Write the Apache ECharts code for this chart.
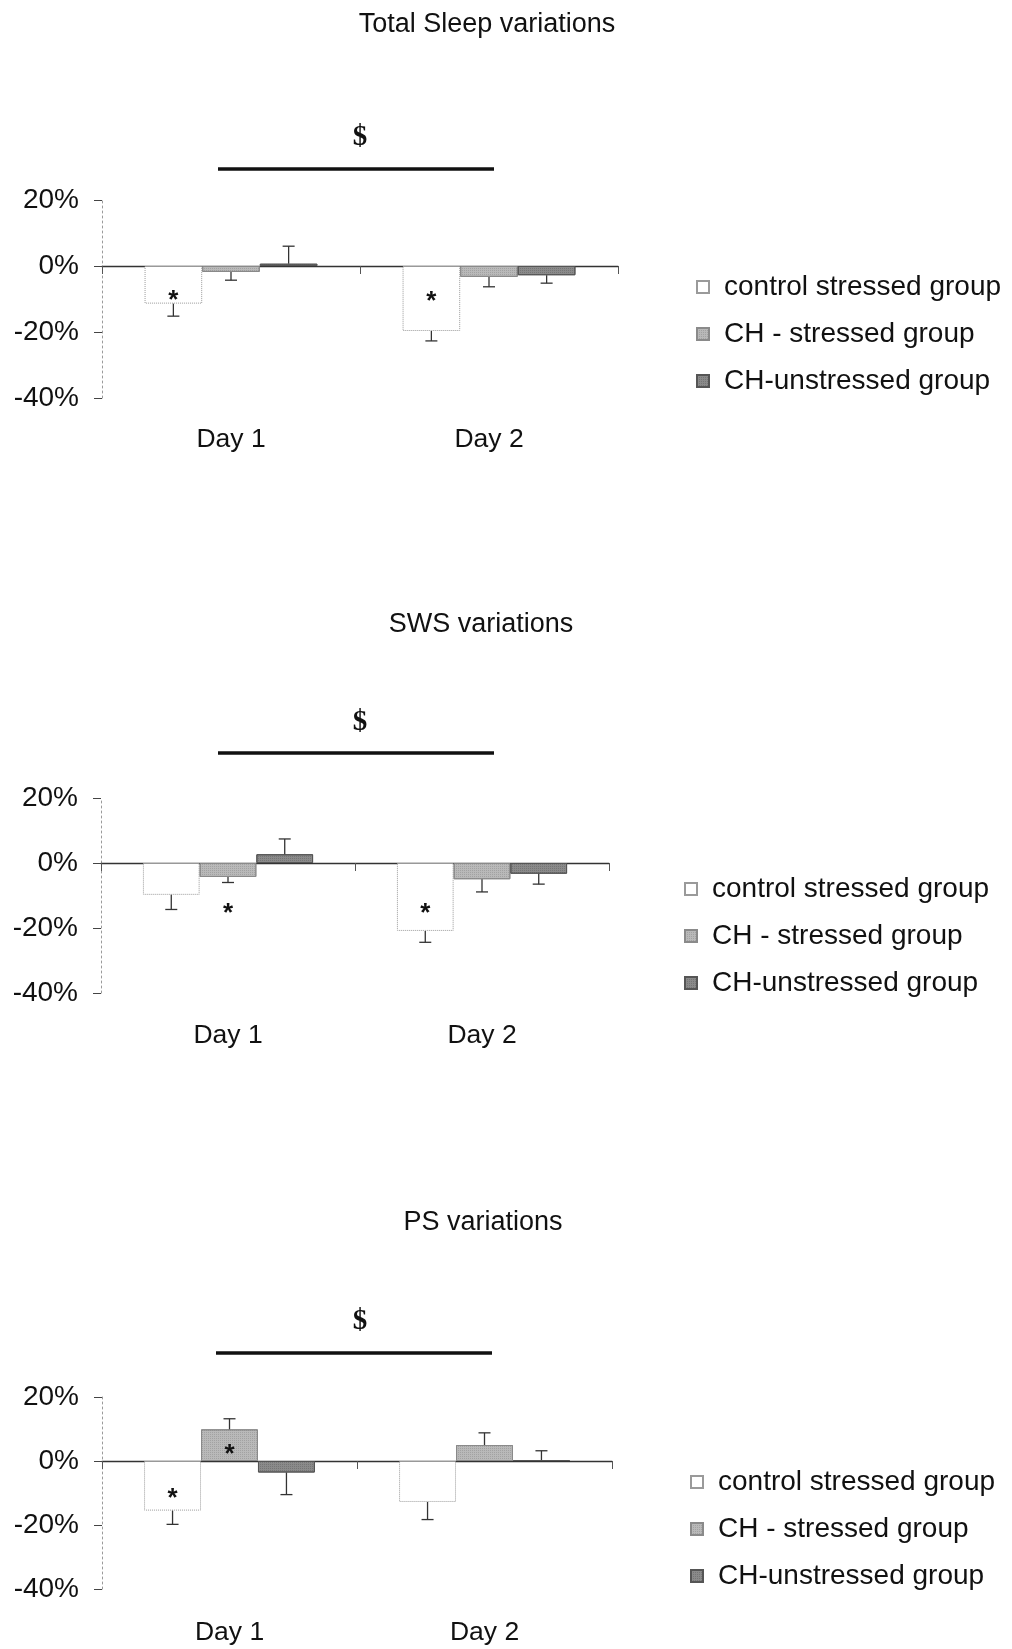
<!DOCTYPE html>
<html>
<head>
<meta charset="utf-8">
<title>Sleep variations</title>
<script src="https://cdn.jsdelivr.net/npm/echarts@6/dist/echarts.min.js"></script>
<style>
    html, body { margin: 0; padding: 0; background: #fff; }
    #chart { width: 1012px; height: 1649px; }
</style>
</head>
<body>
<div id="chart"></div>
<script>
//////////DATA
var days = ['Day 1', 'Day 2'];
var groupNames = ['control stressed group', 'CH - stressed group', 'CH-unstressed group'];
var yMin = -40, yMax = 20, yStep = 20;

// Total sleep (% variation, then one-sided SEM)
var totalControl = [-11.4, -19.7];
var totalChStressed = [-1.8, -3.3];
var totalChUnstressed = [0.7, -2.8];
var totalControlErr = [3.8, 3.0];
var totalChStressedErr = [2.5, 3.0];
var totalChUnstressedErr = [5.3, 2.4];
var totalStars = [[0, 0, -9.7], [1, 0, -10]];      // [day, group, y]

// SWS
var swsControl = [-9.8, -20.9];
var swsChStressed = [-4.3, -5.0];
var swsChUnstressed = [2.7, -3.3];
var swsControlErr = [4.5, 3.5];
var swsChStressedErr = [1.7, 3.9];
var swsChUnstressedErr = [4.7, 3.2];
var swsStars = [[0, 1, -14.6], [1, 0, -14.6]];

// PS
var psControl = [-15.5, -12.8];
var psChStressed = [9.9, 5.0];
var psChUnstressed = [-3.6, 0.3];
var psControlErr = [4.3, 5.5];
var psChStressedErr = [3.3, 3.8];
var psChUnstressedErr = [6.9, 2.9];
var psStars = [[0, 0, -10.9], [0, 1, 3.0]];
//////////DATA

(function () {
    'use strict';

    var font = '"Liberation Sans", Arial, sans-serif';
    var gapRatio = 0.33;

    var barStyles = [
        { color: '#ffffff', borderColor: '#9a9a9a', borderType: 'dotted', borderWidth: 1 },
        { color: '#b9b9b9', borderColor: '#8a8a8a', borderWidth: 1,
          decal: { symbol: 'rect', symbolSize: 1, dashArrayX: [1, 1], dashArrayY: [1, 1], color: 'rgba(0,0,0,0.12)' } },
        { color: '#8a8a8a', borderColor: '#555555', borderWidth: 1,
          decal: { symbol: 'rect', symbolSize: 1, dashArrayX: [1, 1], dashArrayY: [1, 1], color: 'rgba(0,0,0,0.15)' } }
    ];

    // layout per panel
    var panels = [
        {
            title: 'Total Sleep variations', cx: 482, ty: 6,
            values: [totalControl, totalChStressed, totalChUnstressed],
            errors: [totalControlErr, totalChStressedErr, totalChUnstressedErr],
            stars: totalStars,
            grid: { left: 102, right: 394, top: 200, height: 198 },
            legend: { left: 691, top: 267 },
            labelMargin: 28,
            sig: { x: 360, y: 138, lineY: 169, x1: 218, x2: 494 }
        },
        {
            title: 'SWS variations', cx: 476, ty: 606,
            values: [swsControl, swsChStressed, swsChUnstressed],
            errors: [swsControlErr, swsChStressedErr, swsChUnstressedErr],
            stars: swsStars,
            grid: { left: 101, right: 403, top: 798, height: 195 },
            legend: { left: 679, top: 869 },
            labelMargin: 29,
            sig: { x: 360, y: 723, lineY: 753, x1: 218, x2: 494 }
        },
        {
            title: 'PS variations', cx: 478, ty: 1204,
            values: [psControl, psChStressed, psChUnstressed],
            errors: [psControlErr, psChStressedErr, psChUnstressedErr],
            stars: psStars,
            grid: { left: 102, right: 400, top: 1397, height: 192 },
            legend: { left: 685, top: 1462 },
            labelMargin: 30,
            sig: { x: 360, y: 1322, lineY: 1353, x1: 216, x2: 492 }
        }
    ];

    function barOffset(api, group) {
        var band = api.size([1, 0])[0];
        var bw = band * (1 - gapRatio) / 3;
        return { off: (group - 1) * bw, bw: bw };
    }

    function renderError(params, api) {
        var day = api.value(0);
        var o = barOffset(api, api.value(3));
        var p1 = api.coord([day, api.value(1)]);
        var p2 = api.coord([day, api.value(2)]);
        var x = p1[0] + o.off;
        var style = { stroke: '#333', lineWidth: 1.3 };
        return {
            type: 'group',
            children: [
                { type: 'line', shape: { x1: x, y1: p1[1], x2: x, y2: p2[1] }, style: style },
                { type: 'line', shape: { x1: x - 6, y1: p2[1], x2: x + 6, y2: p2[1] }, style: style }
            ]
        };
    }

    function renderStar(params, api) {
        var day = api.value(0);
        var o = barOffset(api, api.value(2));
        var p = api.coord([day, api.value(1)]);
        return {
            type: 'text',
            style: {
                text: '*', x: p[0] + o.off, y: p[1] + 3,
                align: 'center', verticalAlign: 'middle',
                font: 'bold 26px ' + font, fill: '#111'
            }
        };
    }

    var option = {
        animation: false,
        backgroundColor: '#fff',
        title: [], legend: [], grid: [], xAxis: [], yAxis: [], series: [], graphic: []
    };

    panels.forEach(function (p, i) {
        option.title.push({
            text: p.title, left: p.cx, top: p.ty, textAlign: 'center',
            textStyle: { fontFamily: font, fontSize: 27, fontWeight: 'normal', color: '#111' }
        });
        option.grid.push(p.grid);

        ////////////Axes: zero line + day labels
        option.xAxis.push({
            type: 'category', data: days, gridIndex: i, position: 'bottom',
            axisLine: { onZero: true, lineStyle: { color: '#333', width: 1.3 } },
            axisTick: { show: true, length: 8, lineStyle: { color: '#555' } },
            axisLabel: { show: false }
        });
        option.xAxis.push({
            type: 'category', data: days, gridIndex: i, position: 'bottom',
            axisLine: { show: false, onZero: false }, axisTick: { show: false },
            axisLabel: { margin: p.labelMargin, fontFamily: font, fontSize: 26.5, color: '#111' }
        });
        option.yAxis.push({
            type: 'value', gridIndex: i, min: yMin, max: yMax, interval: yStep,
            axisLine: { show: true, lineStyle: { color: '#9a9a9a', type: [2, 3], width: 1 } },
            axisTick: { show: true, length: 8, lineStyle: { color: '#444' } },
            splitLine: { show: false },
            axisLabel: { formatter: '{value}%', margin: 23, fontFamily: font, fontSize: 28, color: '#111' }
        });

        ////////////Bars
        var errData = [];
        p.values.forEach(function (vals, k) {
            option.series.push({
                type: 'bar', name: groupNames[k], xAxisIndex: 2 * i, yAxisIndex: i,
                data: vals, barGap: '0%', barCategoryGap: (gapRatio * 100) + '%',
                itemStyle: barStyles[k]
            });
            vals.forEach(function (v, d) {
                var e = p.errors[k][d];
                errData.push([d, v, v + (v >= 0 ? e : -e), k]);
            });
        });
        option.series.push({
            type: 'custom', xAxisIndex: 2 * i, yAxisIndex: i,
            renderItem: renderError, data: errData, z: 3
        });
        option.series.push({
            type: 'custom', xAxisIndex: 2 * i, yAxisIndex: i,
            renderItem: renderStar,
            data: p.stars.map(function (s) { return [s[0], s[2], s[1]]; }), z: 4
        });

        ////////////Legend
        option.legend.push({
            data: groupNames, orient: 'vertical', left: p.legend.left, top: p.legend.top,
            icon: 'rect', itemWidth: 12, itemHeight: 12, itemGap: 17,
            selectedMode: false,
            textStyle: { fontFamily: font, fontSize: 28, color: '#111', lineHeight: 30, padding: [0, 0, 0, 10] }
        });

        ////////////Significance bracket ($)
        option.graphic.push({
            type: 'text', x: p.sig.x, y: p.sig.y,
            style: { text: '$', align: 'center', verticalAlign: 'middle',
                     font: 'bold 29px "Liberation Serif", "Times New Roman", serif', fill: '#111' }
        });
        option.graphic.push({
            type: 'line', shape: { x1: p.sig.x1, y1: p.sig.lineY, x2: p.sig.x2, y2: p.sig.lineY },
            style: { stroke: '#111', lineWidth: 3.5 }
        });
    });

    var chart = echarts.init(document.getElementById('chart'));
    chart.setOption(option);
})();
</script>
</body>
</html>
